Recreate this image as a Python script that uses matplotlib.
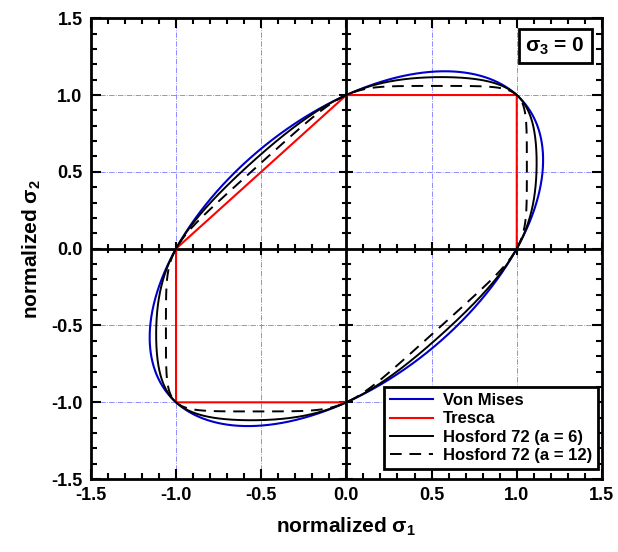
import numpy as np
import matplotlib
matplotlib.use("Agg")
import matplotlib.pyplot as plt
from matplotlib.ticker import MultipleLocator

plt.rcParams["font.family"] = ["Liberation Sans", "DejaVu Sans"]
plt.rcParams["font.weight"] = "bold"
plt.rcParams["mathtext.fontset"] = "custom"
plt.rcParams["mathtext.rm"] = "Liberation Sans:bold"
plt.rcParams["mathtext.it"] = "Liberation Sans:bold"

# yield loci (plane stress), exponents of the Hosford criterion
vm_exponent = 2
hosford_exponents = [6, 12]
hosford_styles = ["-", (0, (6, 4))]
hosford_labels = ["Hosford 72 (a = 6)", "Hosford 72 (a = 12)"]

# Tresca corners as drawn (normalized sigma1, sigma2)
tresca_s1 = [1.0, 1.0, 0.0, -1.0, -1.0, 0.0]
tresca_s2 = [0.0, 1.0, 1.0, 0.0, -1.0, -1.0]

grid_vals = [-1.0, -0.5, 0.5, 1.0]


def hosford_locus(a, n=2000):
    th = np.linspace(0, 2 * np.pi, n)
    c, s = np.cos(th), np.sin(th)
    f = np.abs(c) ** a + np.abs(s) ** a + np.abs(c - s) ** a
    r = (2.0 / f) ** (1.0 / a)
    return r * c, r * s


fig = plt.figure(figsize=(6.18, 5.52), dpi=100)
ax = fig.add_axes([0.147, 0.132, 0.827, 0.835])

for v in grid_vals:
    ax.axvline(v, color="#7a7aff", lw=0.6, ls="-.", zorder=1)
    ax.axhline(v, color="#7a7aff", lw=0.6, ls="-.", zorder=1)
ax.axvline(0, color="black", lw=2, zorder=2)
ax.axhline(0, color="black", lw=2, zorder=2)

# crossing ticks on the zero lines
for t in np.arange(-1.5, 1.51, 0.1):
    if abs(t) < 1e-9:
        continue
    major = abs(round(t / 0.5) * 0.5 - t) < 1e-9
    h = 0.035 if major else 0.022
    ax.plot([t, t], [-h, h], color="black", lw=1.5, zorder=2)
    ax.plot([-h, h], [t, t], color="black", lw=1.5, zorder=2)

x, y = hosford_locus(vm_exponent)
ax.plot(x, y, color="#0000cc", lw=1.5, label="Von Mises", zorder=3)
ax.plot(tresca_s1, tresca_s2, color="red", lw=1.5, label="Tresca", zorder=3)
for a, ls, lab in zip(hosford_exponents, hosford_styles, hosford_labels):
    x, y = hosford_locus(a)
    ax.plot(x, y, color="black", lw=1.4, ls=ls, label=lab, zorder=4)

ax.set_xlim(-1.5, 1.5)
ax.set_ylim(-1.5, 1.5)
ax.xaxis.set_major_locator(MultipleLocator(0.5))
ax.yaxis.set_major_locator(MultipleLocator(0.5))
ax.xaxis.set_minor_locator(MultipleLocator(0.1))
ax.yaxis.set_minor_locator(MultipleLocator(0.1))
ax.tick_params(which="both", direction="in", top=True, right=True, width=1.5)
ax.tick_params(which="major", length=7, labelsize=13, pad=6)
ax.tick_params(which="minor", length=4)
ax.xaxis.set_major_formatter(plt.FuncFormatter(lambda v, p: f"{v:.1f}"))
ax.yaxis.set_major_formatter(plt.FuncFormatter(lambda v, p: f"{v:.1f}"))
for lab in ax.get_xticklabels() + ax.get_yticklabels():
    lab.set_fontweight("bold")
for sp in ax.spines.values():
    sp.set_linewidth(2)

ax.set_xlabel(r"normalized $\sigma_1$", fontsize=15, fontweight="bold", labelpad=8)
ax.set_ylabel(r"normalized $\sigma_2$", fontsize=15, fontweight="bold", labelpad=6)

ax.text(1.4, 1.32, r"$\sigma_3$ = 0", fontsize=15, fontweight="bold",
        ha="right", va="center", zorder=6,
        bbox=dict(boxstyle="square,pad=0.32", fc="white", ec="black", lw=2))

leg = ax.legend(loc="lower right", bbox_to_anchor=(0.993, 0.022), fontsize=12,
                fancybox=False, framealpha=1, edgecolor="black",
                borderpad=0.35, labelspacing=0.2, handlelength=2.6,
                handletextpad=0.6, borderaxespad=0)
leg.get_frame().set_linewidth(2)
for t in leg.get_texts():
    t.set_fontweight("bold")
leg.set_zorder(7)

fig.savefig("out.png", dpi=100)
